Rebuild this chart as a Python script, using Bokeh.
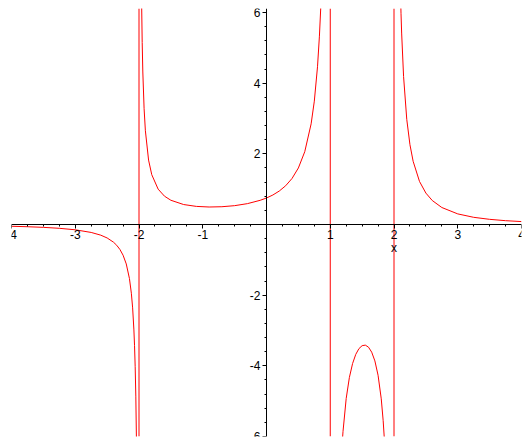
from bokeh.plotting import figure
from bokeh.models import LinearAxis, FixedTicker, Range1d, CustomJSTickFormatter
from bokeh.core.properties import value
from bokeh.embed import file_html
from bokeh.resources import INLINE

# ---- data ----
x_ticks = [-4, -3, -2, -1, 1, 2, 3, 4]
x_minor = [-3.75, -3.5, -3.25, -2.75, -2.5, -2.25, -1.75, -1.5, -1.25,
           -0.75, -0.5, -0.25, 0.25, 0.5, 0.75, 1.25, 1.5, 1.75,
           2.25, 2.5, 2.75, 3.25, 3.5, 3.75]
y_ticks = [-6, -4, -2, 2, 4, 6]
y_minor = [-5.6, -5.2, -4.8, -4.4, -3.6, -3.2, -2.8, -2.4, -1.6, -1.2, -0.8, -0.4,
           0.4, 0.8, 1.2, 1.6, 2.4, 2.8, 3.2, 3.6, 4.4, 4.8, 5.2, 5.6]

poles = [-2, 1, 2]

# branch left of x = -2
xa = [-4, -3.75, -3.5, -3.25, -3, -2.75, -2.6, -2.5, -2.4, -2.35, -2.3, -2.25,
      -2.2, -2.15, -2.12, -2.1, -2.08, -2.07, -2.06, -2.05, -2.04, -2.03]
ya = [-0.050, -0.063, -0.081, -0.108, -0.150, -0.225, -0.302, -0.381, -0.501,
      -0.588, -0.705, -0.869, -1.116, -1.530, -1.945, -2.360, -2.984, -3.430,
      -4.025, -4.857, -6.107, -8.19]

# branch between -2 and 1
xb = [-1.97, -1.96, -1.95, -1.94, -1.92, -1.9, -1.85, -1.8, -1.7, -1.6, -1.5,
      -1.3, -1.1, -0.9, -0.7, -0.5, -0.3, -0.1, 0, 0.1, 0.2, 0.3, 0.4, 0.5,
      0.6, 0.7, 0.75, 0.8, 0.83, 0.85, 0.88]
yb = [8.48, 6.40, 5.149, 4.316, 3.276, 2.653, 1.823, 1.410, 1.001, 0.801, 0.686,
      0.565, 0.512, 0.495, 0.503, 0.533, 0.590, 0.684, 0.750, 0.835, 0.947,
      1.096, 1.302, 1.600, 2.060, 2.849, 3.491, 4.464, 5.330, 6.102, 7.75]

# branch between 1 and 2
xc = [1.15, 1.18, 1.2, 1.25, 1.3, 1.35, 1.4, 1.45, 1.5, 1.55, 1.6, 1.65, 1.7,
      1.75, 1.8, 1.83, 1.85, 1.88]
yc = [-7.47, -6.39, -5.859, -4.923, -4.329, -3.936, -3.676, -3.513, -3.429,
      -3.414, -3.472, -3.613, -3.861, -4.267, -4.934, -5.551, -6.111, -7.32]

# branch right of x = 2
xd = [2.08, 2.1, 2.11, 2.12, 2.15, 2.2, 2.25, 2.3, 2.4, 2.5, 2.6, 2.75, 3,
      3.25, 3.5, 3.75, 4]
yd = [8.51, 6.652, 5.978, 5.418, 4.191, 2.976, 2.259, 1.789, 1.218, 0.889,
      0.679, 0.481, 0.300, 0.203, 0.146, 0.108, 0.083]

mark_x = [2]
mark_y = [-0.67]
mark_text = ["x"]

x_lo, x_hi = -4, 4
y_lo, y_hi = -6, 6.113

FONT = "Liberation Sans"

p = figure(width=536, height=452, x_range=Range1d(x_lo, x_hi), y_range=Range1d(y_lo, y_hi),
           output_backend="svg", toolbar_location=None,
           x_axis_location=None, y_axis_location=None,
           min_border_left=19, min_border_right=7, min_border_top=16, min_border_bottom=8)
p.xgrid.visible = False
p.ygrid.visible = False
p.outline_line_color = None
p.styles = {"margin-left": "-8px", "margin-top": "-8px", "margin-bottom": "-16px"}

fmt = CustomJSTickFormatter(code="return tick.toString();")

def style_axis(ax):
    ax.formatter = fmt
    ax.axis_line_color = "black"
    ax.axis_line_width = 1
    ax.major_tick_in = 0
    ax.major_tick_out = 4
    ax.minor_tick_in = 0
    ax.minor_tick_out = 2
    ax.major_tick_line_color = "black"
    ax.minor_tick_line_color = "black"
    ax.major_label_text_font = FONT
    ax.major_label_text_font_size = "12px"
    ax.major_label_text_color = "black"
    ax.major_label_standoff = 2

xaxis = LinearAxis(fixed_location=0, ticker=FixedTicker(ticks=x_ticks, minor_ticks=x_minor))
style_axis(xaxis)
p.add_layout(xaxis, "below")

yaxis = LinearAxis(fixed_location=0, ticker=FixedTicker(ticks=y_ticks, minor_ticks=y_minor))
style_axis(yaxis)
p.add_layout(yaxis, "left")

RED = "#ff0000"
for xs, ys in [(xa, ya), (xb, yb), (xc, yc), (xd, yd)]:
    p.line(xs, ys, line_color=RED, line_width=1)

p.segment(x0=poles, y0=[y_lo] * len(poles), x1=poles, y1=[y_hi] * len(poles),
          line_color=RED, line_width=1)

p.text(x=mark_x, y=mark_y, text=mark_text, text_align="center", text_baseline="middle",
       text_font=value(FONT), text_font_size="12px", text_color="black")

open("out.html", "w").write(file_html(p, INLINE))
